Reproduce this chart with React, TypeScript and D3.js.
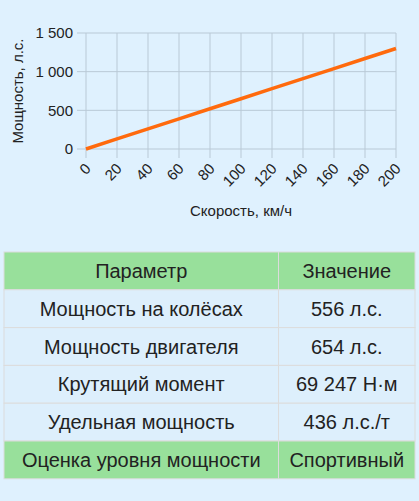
import { useEffect, useRef } from 'react'
import * as d3 from 'd3'

// values
const speeds = [0, 20, 40, 60, 80, 100, 120, 140, 160, 180, 200]
const power = [0, 130, 260, 390, 520, 650, 780, 910, 1040, 1170, 1300]
const xTicks = [0, 20, 40, 60, 80, 100, 120, 140, 160, 180, 200]
const yTicks = [0, 500, 1000, 1500]

const tableHeader = ['Параметр', 'Значение']
const tableParams = ['Мощность на колёсах', 'Мощность двигателя', 'Крутящий момент', 'Удельная мощность', 'Оценка уровня мощности']
const tableValues = ['556 л.с.', '654 л.с.', '69 247 Н·м', '436 л.с./т', 'Спортивный']

const W = 419
const H = 501
const FONT = '"Liberation Sans", Arial, sans-serif'

export default function App() {
  const svgRef = useRef<SVGSVGElement>(null)

  useEffect(() => {
    if (!svgRef.current) return
    const svg = d3.select(svgRef.current)
    svg.selectAll('*').remove()

    svg.append('rect').attr('width', W).attr('height', H).attr('fill', '#dff1fe')

    const margin = { top: 33, right: 23, left: 86 }
    const plotBottom = 149
    const x = d3.scaleLinear().domain([0, 200]).range([margin.left, W - margin.right])
    const y = d3.scaleLinear().domain([0, 1500]).range([plotBottom, margin.top])
    const fmt = (v: number) => d3.format(',')(v).replace(/,/g, ' ')

    const g = svg.append('g').attr('font-family', FONT)

    // grid + ticks
    g.selectAll('.hgrid')
      .data(yTicks)
      .enter()
      .append('line')
      .attr('x1', margin.left - 9)
      .attr('x2', x(200))
      .attr('y1', (d) => y(d))
      .attr('y2', (d) => y(d))
      .attr('stroke', '#b9c9d6')
      .attr('stroke-width', 1)

    g.selectAll('.vgrid')
      .data(xTicks)
      .enter()
      .append('line')
      .attr('x1', (d) => x(d))
      .attr('x2', (d) => x(d))
      .attr('y1', margin.top)
      .attr('y2', plotBottom + 9)
      .attr('stroke', '#b9c9d6')
      .attr('stroke-width', 1)

    g.selectAll('.ylab')
      .data(yTicks)
      .enter()
      .append('text')
      .attr('x', margin.left - 13)
      .attr('y', (d) => y(d))
      .attr('dy', '0.35em')
      .attr('text-anchor', 'end')
      .attr('font-size', 15)
      .attr('fill', '#222')
      .text((d) => fmt(d))

    g.selectAll('.xlab')
      .data(xTicks)
      .enter()
      .append('text')
      .attr('transform', (d) => `translate(${x(d) + 2},${plotBottom + 17}) rotate(-45)`)
      .attr('dy', '0.35em')
      .attr('text-anchor', 'end')
      .attr('font-size', 15)
      .attr('fill', '#222')
      .text((d) => d)

    // axis titles
    g.append('text')
      .attr('x', (x(0) + x(200)) / 2)
      .attr('y', 216)
      .attr('text-anchor', 'middle')
      .attr('font-size', 15)
      .attr('fill', '#222')
      .text('Скорость, км/ч')

    g.append('text')
      .attr('transform', `translate(23,${(margin.top + plotBottom) / 2}) rotate(-90)`)
      .attr('text-anchor', 'middle')
      .attr('font-size', 15)
      .attr('fill', '#222')
      .text('Мощность, л.с.')

    // line
    const line = d3.line<number>()
      .x((_, i) => x(speeds[i]))
      .y((d) => y(d))
    g.append('path')
      .datum(power)
      .attr('d', line)
      .attr('fill', 'none')
      .attr('stroke', '#ff6a0d')
      .attr('stroke-width', 3.5)

    // table
    const tLeft = 4
    const tRight = 415
    const tTop = 252
    const rowH = 37.8
    const colX = 278.5
    const rows = [tableHeader, ...tableParams.map((p, i) => [p, tableValues[i]])]
    const tg = svg.append('g').attr('font-family', FONT)

    rows.forEach((r, i) => {
      const top = tTop + i * rowH
      const green = i === 0 || i === rows.length - 1
      tg.append('rect')
        .attr('x', tLeft)
        .attr('y', top)
        .attr('width', tRight - tLeft)
        .attr('height', rowH)
        .attr('fill', green ? '#98e09b' : '#ddeffc')
        .attr('stroke', '#dcdcdc')
        .attr('stroke-width', 1)
      tg.append('line')
        .attr('x1', colX)
        .attr('x2', colX)
        .attr('y1', top)
        .attr('y2', top + rowH)
        .attr('stroke', '#dcdcdc')
      ;[r[0], r[1]].forEach((txt, j) => {
        tg.append('text')
          .attr('x', j === 0 ? (tLeft + colX) / 2 : (colX + tRight) / 2)
          .attr('y', top + rowH / 2)
          .attr('dy', '0.35em')
          .attr('text-anchor', 'middle')
          .attr('font-size', 20)
          .attr('fill', '#222')
          .text(txt)
      })
    })
  }, [])

  return (
    <div style={{ position: 'fixed', left: 0, top: 0, width: W, height: H, background: '#dff1fe' }}>
      <svg ref={svgRef} width={W} height={H} />
    </div>
  )
}
